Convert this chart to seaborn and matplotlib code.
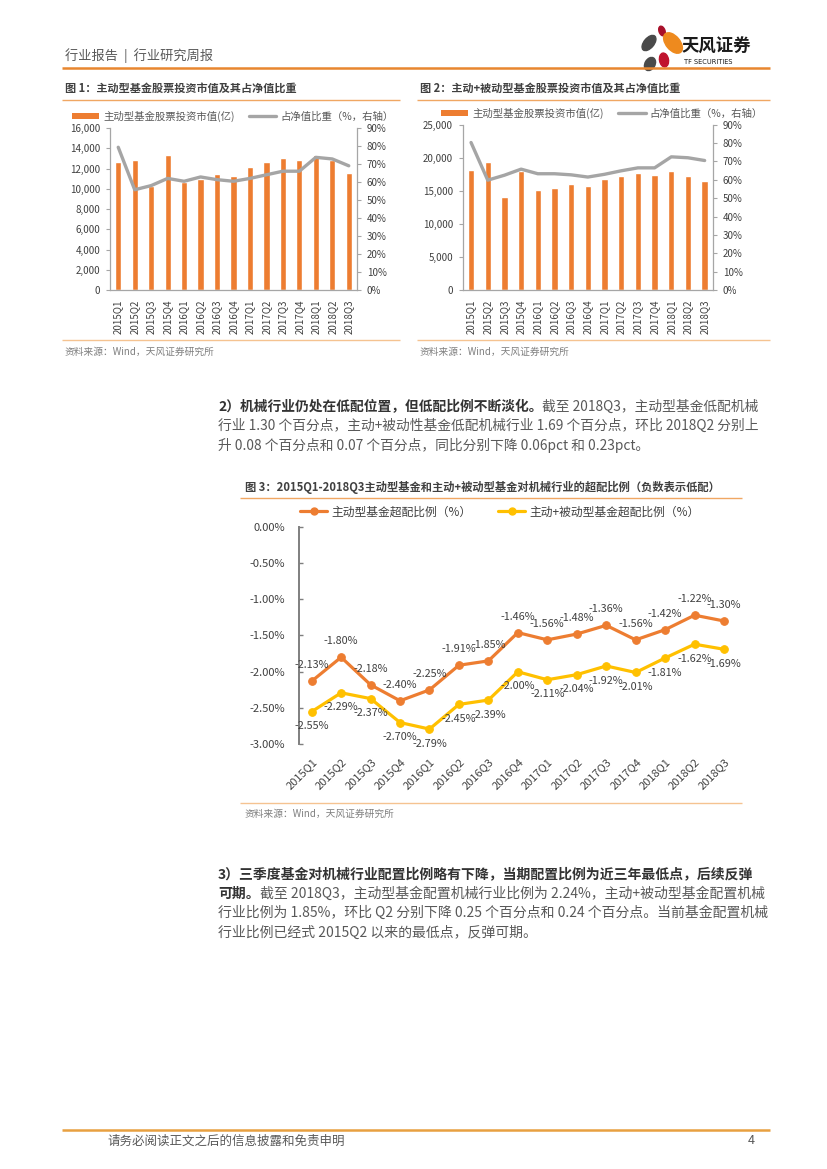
import numpy as np
import pandas as pd
import matplotlib
matplotlib.use("Agg")
import matplotlib.pyplot as plt
import seaborn as sns
from matplotlib.patches import Ellipse, Patch
from matplotlib.lines import Line2D

# ---------------- data ----------------
quarters = ["2015Q1", "2015Q2", "2015Q3", "2015Q4", "2016Q1", "2016Q2", "2016Q3", "2016Q4",
            "2017Q1", "2017Q2", "2017Q3", "2017Q4", "2018Q1", "2018Q2", "2018Q3"]
# chart 1: active funds stock market value (100m) and share of NAV (%)
active_mv = [12600, 12800, 10300, 13300, 10700, 11000, 11450, 11250,
             12100, 12600, 13000, 12830, 13300, 12830, 11550]
active_ratio = [79.3, 55.7, 58.0, 62.0, 60.4, 62.8, 61.3, 60.4,
                62.0, 64.0, 66.0, 66.0, 73.7, 72.8, 69.0]
# chart 2: active + passive funds
all_mv = [18200, 19350, 14000, 18000, 15150, 15450, 16050, 15750,
          16850, 17300, 17700, 17450, 18000, 17250, 16500]
all_ratio = [80.3, 59.8, 62.5, 65.8, 63.3, 63.3, 62.7, 61.5,
             63.0, 64.9, 66.5, 66.5, 72.5, 72.0, 70.5]
# chart 3: overweight ratios (%)
active_over = [-2.13, -1.80, -2.18, -2.40, -2.25, -1.91, -1.85, -1.46,
               -1.56, -1.48, -1.36, -1.56, -1.42, -1.22, -1.30]
all_over = [-2.55, -2.29, -2.37, -2.70, -2.79, -2.45, -2.39, -2.00,
            -2.11, -2.04, -1.92, -2.01, -1.81, -1.62, -1.69]

left_ticks1 = list(range(0, 16001, 2000))
left_ticks2 = list(range(0, 25001, 5000))
right_ticks = list(range(0, 91, 10))
ticks3 = [0.0, -0.5, -1.0, -1.5, -2.0, -2.5, -3.0]

leg_mv1 = "主动型基金股票投资市值(亿)"
leg_mv2 = "主动型基金股票投资市值(亿)"
leg_ratio = "占净值比重（%，右轴）"
leg_over1 = "主动型基金超配比例（%）"
leg_over2 = "主动+被动型基金超配比例（%）"

# ---------------- style ----------------
sns.set_theme(style="white")
plt.rcParams["font.family"] = ["Noto Sans CJK SC", "DejaVu Sans"]
plt.rcParams["axes.unicode_minus"] = False

ORANGE = "#ED7D31"
YELLOW = "#FFC000"
GRAY = "#A5A5A5"
TXT = "#404040"
SPINE = "#A6A6A6"

W, H = 827, 1169
fig = plt.figure(figsize=(W / 100, H / 100), dpi=100)
fig.patch.set_facecolor("white")


def rect(x0, y0, x1, y1):
    return [x0 / W, 1 - y1 / H, (x1 - x0) / W, (y1 - y0) / H]


n = len(quarters)
idx = np.arange(n)


def bar_line_chart(box, mv, ratio, ymax, yticks):
    ax = fig.add_axes(box)
    ax.set_facecolor("none")
    df = pd.DataFrame({"i": idx, "v": mv})
    sns.barplot(data=df, x="i", y="v", ax=ax, color=ORANGE, width=0.38,
                saturation=1, errorbar=None)
    ax.set_ylim(0, ymax)
    ax.set_yticks(yticks)
    ax.set_yticklabels([f"{v:,}" for v in yticks])
    ax.set_xticks(idx)
    ax.set_xticklabels(quarters, rotation=90)
    ax.set_xlabel("")
    ax.set_ylabel("")
    axr = ax.twinx()
    sns.lineplot(x=idx, y=ratio, ax=axr, color=GRAY, lw=2.4)
    axr.set_ylim(0, 90)
    axr.set_yticks(right_ticks)
    axr.set_yticklabels([f"{v}%" for v in right_ticks])
    axr.set_ylabel("")
    ax.set_xlim(-0.5, n - 0.5)
    for a in (ax, axr):
        for s in a.spines.values():
            s.set_color(SPINE)
            s.set_linewidth(0.9)
        a.spines["top"].set_visible(False)
    ax.spines["right"].set_visible(False)
    axr.spines["left"].set_visible(False)
    axr.spines["bottom"].set_visible(False)
    ax.tick_params(axis="y", length=3, width=0.8, color=SPINE, labelsize=7,
                   labelcolor=TXT, pad=4, left=True)
    ax.tick_params(axis="x", length=0, labelsize=7, labelcolor=TXT, pad=7)
    axr.tick_params(axis="y", length=3, width=0.8, color=SPINE, labelsize=7,
                    labelcolor=TXT, pad=4, right=True)
    ax.grid(False)
    axr.grid(False)
    return ax, axr


ax1, ax1r = bar_line_chart(rect(110, 128, 357, 290), active_mv, active_ratio, 16000, left_ticks1)
ax2, ax2r = bar_line_chart(rect(462.7, 124.7, 713, 290), all_mv, all_ratio, 25000, left_ticks2)

# legends for chart 1 and 2
for cx, cy, lab in [(233, 116, leg_mv1), (602, 113, leg_mv2)]:
    handles = [Patch(facecolor=ORANGE, edgecolor="none", label=lab),
               Line2D([], [], color=GRAY, lw=2.4, label=leg_ratio)]
    fig.legend(handles=handles, loc="center", bbox_to_anchor=(cx / W, 1 - cy / H),
               ncol=2, frameon=False, fontsize=7.5, handlelength=2.6, handleheight=0.5,
               handletextpad=0.4, columnspacing=1.4, labelcolor="#595959", borderpad=0)

# ---------------- chart 3 ----------------
ax3 = fig.add_axes(rect(299.3, 526.7, 736.4, 744.3))
ax3.set_facecolor("none")
sns.lineplot(x=idx, y=active_over, ax=ax3, color=ORANGE, lw=2.3, marker="o",
             markersize=5.5, markeredgecolor=ORANGE)
sns.lineplot(x=idx, y=all_over, ax=ax3, color=YELLOW, lw=2.3, marker="o",
             markersize=5.5, markeredgecolor=YELLOW)
ax3.set_xlim(-0.42, n - 1 + 0.42)
ax3.set_ylim(-3.0, 0.0)
ax3.set_yticks(ticks3)
ax3.set_yticklabels([f"{v:.2f}%" if v != 0 else "0.00%" for v in ticks3])
ax3.set_xticks(idx)
ax3.set_xticklabels(quarters)
plt.setp(ax3.get_xticklabels(), rotation=45, ha="right", rotation_mode="anchor")
for s in ["top", "right", "bottom"]:
    ax3.spines[s].set_visible(False)
ax3.spines["left"].set_color("#7F7F7F")
ax3.spines["left"].set_linewidth(1.4)
ax3.tick_params(axis="y", direction="in", length=3, width=1, color="#7F7F7F",
                labelsize=8, labelcolor=TXT, pad=10, left=True)
ax3.tick_params(axis="x", length=0, labelsize=8, labelcolor=TXT, pad=9)
ax3.set_xlabel("")
ax3.set_ylabel("")
ax3.grid(False)
for i, v in enumerate(active_over):
    ax3.annotate(f"{v:.2f}%", (i, v), xytext=(0, 11.5), textcoords="offset points",
                 ha="center", va="center", fontsize=7.8, color=TXT)
for i, v in enumerate(all_over):
    ax3.annotate(f"{v:.2f}%", (i, v), xytext=(0, -10.5), textcoords="offset points",
                 ha="center", va="center", fontsize=7.8, color=TXT)

h3 = [Line2D([], [], color=ORANGE, lw=2.3, marker="o", markersize=5, label=leg_over1),
      Line2D([], [], color=YELLOW, lw=2.3, marker="o", markersize=5, label=leg_over2)]
fig.legend(handles=h3, loc="center", bbox_to_anchor=(500 / W, 1 - 512 / H), ncol=2,
           frameon=False, fontsize=8.5, handlelength=2.3, handletextpad=0.4,
           columnspacing=2.2, labelcolor=TXT, borderpad=0)

# ---------------- page decorations (pixel overlay) ----------------
ov = fig.add_axes([0, 0, 1, 1])
ov.set_xlim(0, W)
ov.set_ylim(H, 0)
ov.axis("off")
ov.patch.set_alpha(0)


def hline(y, x0, x1, color, lw):
    ov.plot([x0, x1], [y, y], color=color, lw=lw, solid_capstyle="butt")


hline(68, 62, 770, "#E8862F", 1.8)
hline(100, 62, 400, "#F0A763", 1.0)
hline(100, 417, 770, "#F0A763", 1.0)
hline(340, 62, 400, "#F5C391", 1.0)
hline(340, 417, 770, "#F5C391", 1.0)
hline(498, 240, 742, "#F0A763", 1.0)
hline(803, 240, 742, "#F5C391", 1.0)
hline(1130, 62, 770, "#E8A040", 1.8)

# logo
ov.add_patch(Ellipse((662, 31), 6, 10, angle=-20, color="#A8102A"))
ov.add_patch(Ellipse((649, 43), 10, 18, angle=40, color="#4A4A4A"))
ov.add_patch(Ellipse((673, 43), 14, 24, angle=-40, color="#EE8A1E"))
ov.add_patch(Ellipse((664, 60), 9, 14, angle=-10, color="#C0142E"))
ov.add_patch(Ellipse((650, 64), 10, 14, angle=30, color="#4A4A4A"))
ov.text(682, 47, "天风证券", fontsize=12.5, fontweight="bold", color="#1A1A1A",
        ha="left", va="center")
ov.text(684, 62, "TF SECURITIES", fontsize=4.8, color="#1A1A1A", ha="left", va="center",
        family=["DejaVu Sans"])

ov.text(65, 56, "行业报告  |  行业研究周报", fontsize=9.5, color="#595959", ha="left", va="center")

ov.text(65, 88, "图 1：主动型基金股票投资市值及其占净值比重", fontsize=8, fontweight="bold",
        color=TXT, ha="left", va="center")
ov.text(420, 88, "图 2：主动+被动型基金股票投资市值及其占净值比重", fontsize=8, fontweight="bold",
        color=TXT, ha="left", va="center")
ov.text(245, 487, "图 3：2015Q1-2018Q3主动型基金和主动+被动型基金对机械行业的超配比例（负数表示低配）",
        fontsize=8.1, fontweight="bold", color=TXT, ha="left", va="center")
for x, y in [(65, 352), (420, 352), (245, 814)]:
    ov.text(x, y, "资料来源：Wind，天风证券研究所", fontsize=7, color="#7F7F7F",
            ha="left", va="center")

renderer = fig.canvas.get_renderer()
BOLD_C = "#333333"
REG_C = "#595959"


def run(x, y, parts, size=10):
    for s, wt in parts:
        t = ov.text(x, y, s, fontsize=size, fontweight=wt,
                    color=BOLD_C if wt == "bold" else REG_C, ha="left", va="center")
        bb = t.get_window_extent(renderer)
        x += bb.width


run(218, 407, [("2）机械行业仍处在低配位置，但低配比例不断淡化。", "bold"),
               ("截至 2018Q3，主动型基金低配机械", "normal")], 9.9)
run(218, 426, [("行业 1.30 个百分点，主动+被动性基金低配机械行业 1.69 个百分点，环比 2018Q2 分别上", "normal")], 9.9)
run(218, 445, [("升 0.08 个百分点和 0.07 个百分点，同比分别下降 0.06pct 和 0.23pct。", "normal")], 9.9)

run(218, 874, [("3）三季度基金对机械行业配置比例略有下降，当期配置比例为近三年最低点，后续反弹", "bold")])
run(218, 893.5, [("可期。", "bold"),
                 ("截至 2018Q3，主动型基金配置机械行业比例为 2.24%，主动+被动型基金配置机械", "normal")])
run(218, 913, [("行业比例为 1.85%，环比 Q2 分别下降 0.25 个百分点和 0.24 个百分点。当前基金配置机械", "normal")])
run(218, 932.5, [("行业比例已经式 2015Q2 以来的最低点，反弹可期。", "normal")])

ov.text(107, 1141, "请务必阅读正文之后的信息披露和免责申明", fontsize=9, color="#595959",
        ha="left", va="center")
ov.text(755, 1141, "4", fontsize=9, color="#595959", ha="right", va="center")

fig.savefig("out.png", dpi=100, facecolor="white")
